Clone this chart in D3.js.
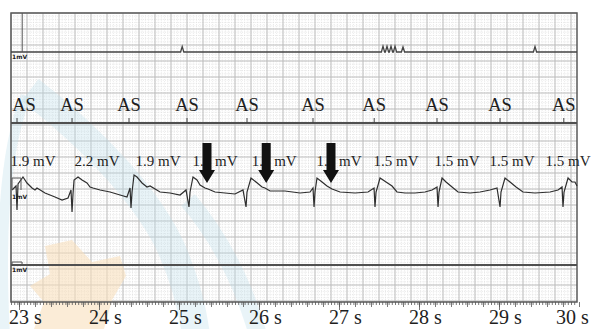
<!DOCTYPE html>
<html>
<head>
<meta charset="utf-8">
<script src="https://cdn.jsdelivr.net/npm/d3@7"></script>
<style>
body { margin: 0; background: #fff; }
svg { display: block; }
text { font-family: "Liberation Serif", "Times New Roman", serif; fill: #1e1e1e; }
</style>
</head>
<body>
<div id="chart"></div>
<script>
var secTicks = [23, 24, 25, 26, 27, 28, 29, 30];
var asTimes = [22.975, 23.663, 24.375, 25.1, 25.85, 26.675, 27.44, 28.225, 29.013, 29.81];
var ampValues = [1.9, 2.2, 1.9, 1.5, 1.5, 1.5, 1.5, 1.5, 1.5, 1.5];
var ampTimes = [23.175, 23.975, 24.738, 25.45, 26.19, 27.0, 27.713, 28.475, 29.163, 29.863];
var arrowTimes = [25.35, 26.09, 26.9];
var topSpikeTimes = [25.04, 27.55, 27.6, 27.65, 27.7, 27.8, 29.45];
var topSpikeAmp = [0.14, 0.15, 0.15, 0.15, 0.15, 0.13, 0.14];
// ECG lead: [time s, mV]
var ecg = [
  [22.913, 0], [22.963, 0.2], [22.975, -1.0], [22.988, 0.3], [23.05, 0.65], [23.1, 0.35],
  [23.163, 0.1], [23.2, 0], [23.225, 0.1], [23.325, -0.15], [23.45, -0.35], [23.538, -0.5],
  [23.613, -0.4], [23.65, 0], [23.663, -1.1], [23.675, -0.2], [23.688, 0.5], [23.738, 0.65],
  [23.788, 0.5], [23.85, 0.35], [23.888, 0.15], [23.925, 0.1], [24.013, 0], [24.138, -0.1],
  [24.263, -0.25], [24.35, -0.35], [24.388, 0.1], [24.4, -0.9], [24.413, -0.1], [24.438, 0.75],
  [24.475, 0.65], [24.538, 0.35], [24.6, 0.15], [24.638, 0.2], [24.763, -0.1], [24.888, -0.15],
  [25.013, -0.25], [25.088, 0], [25.125, -0.85], [25.138, -0.1], [25.175, 0.65], [25.225, 0.5],
  [25.263, 0.25], [25.325, 0.1], [25.363, 0.05], [25.45, -0.1], [25.575, -0.15], [25.7, -0.2],
  [25.8, 0], [25.838, -0.85], [25.85, -0.1], [25.9, 0.6], [25.963, 0.4], [26.038, 0.15],
  [26.075, 0.1], [26.138, -0.05], [26.325, -0.05], [26.513, -0.15], [26.638, -0.1], [26.675, 0.1],
  [26.688, -0.85], [26.7, -0.1], [26.725, 0.6], [26.788, 0.4], [26.85, 0.2], [26.913, 0.05],
  [27.013, -0.1], [27.2, -0.15], [27.363, -0.1], [27.438, 0.1], [27.45, -0.85], [27.463, -0.1],
  [27.513, 0.6], [27.588, 0.4], [27.663, 0.2], [27.725, -0.1], [27.825, -0.15], [27.95, -0.15],
  [28.075, -0.1], [28.163, 0], [28.225, 0.15], [28.238, -0.85], [28.25, -0.1], [28.288, 0.6],
  [28.338, 0.4], [28.413, 0.15], [28.488, -0.1], [28.638, -0.15], [28.763, -0.1], [28.888, 0],
  [28.975, 0.1], [29.013, -0.85], [29.025, -0.1], [29.075, 0.6], [29.138, 0.4], [29.213, 0.15],
  [29.3, -0.1], [29.45, -0.15], [29.638, -0.1], [29.738, 0], [29.788, 0.15], [29.8, -0.85],
  [29.813, -0.1], [29.863, 0.6], [29.913, 0.4], [29.95, 0.4], [29.975, 0.2]
];

var width = 592, height = 329;
var L = 11, R = 577, T = 13, B = 302;

var svg = d3.select('#chart').append('svg').attr('width', width).attr('height', height);

var x = d3.scaleLinear().domain([22.9, 29.975]).range([L, R]);
var yTop = d3.scaleLinear().domain([0, 1]).range([52, 13]);
var yEcg = d3.scaleLinear().domain([0, 1]).range([190, 170]);
var yBot = d3.scaleLinear().domain([0, 1]).range([265, 245]);

// paper grid: 0.2 s big boxes, 0.04 s small ones
var grid = svg.append('g');
var minorT = d3.range(0, 177).map(i => 22.9 + i * 0.04).filter(t => t <= 29.975);
var majorT = d3.range(0, 36).map(i => 22.9 + i * 0.2);
var minorY = d3.range(T, B, 3.2);
var majorY = d3.range(T, B, 16);

grid.selectAll('.mv').data(minorT).enter().append('line')
  .attr('x1', d => x(d)).attr('x2', d => x(d)).attr('y1', T).attr('y2', B)
  .attr('stroke', '#d6d6d6').attr('stroke-width', 0.6).attr('stroke-dasharray', '1,1.2');
grid.selectAll('.mh').data(minorY).enter().append('line')
  .attr('x1', L).attr('x2', R).attr('y1', d => d).attr('y2', d => d)
  .attr('stroke', '#d6d6d6').attr('stroke-width', 0.6).attr('stroke-dasharray', '1,1.2');
grid.selectAll('.Mv').data(majorT).enter().append('line')
  .attr('x1', d => x(d)).attr('x2', d => x(d)).attr('y1', T).attr('y2', B)
  .attr('stroke', '#bdbdbd').attr('stroke-width', 1);
grid.selectAll('.Mh').data(majorY).enter().append('line')
  .attr('x1', L).attr('x2', R).attr('y1', d => d).attr('y2', d => d)
  .attr('stroke', '#bdbdbd').attr('stroke-width', 1);

// faint watermark behind the traces
var wm = svg.append('g').attr('fill', 'none');
wm.append('path').attr('d', 'M30,90 C95,140 150,200 172,250 C185,280 192,305 196,335')
  .attr('stroke', '#bfe0ea').attr('stroke-width', 28).attr('opacity', 0.35);
wm.append('path').attr('d', 'M188,200 C220,238 243,282 258,335')
  .attr('stroke', '#bfe0ea').attr('stroke-width', 18).attr('opacity', 0.35);
wm.append('path').attr('d', 'M26,96 C4,150 0,240 5,335')
  .attr('stroke', '#bfe0ea').attr('stroke-width', 10).attr('opacity', 0.35);
wm.append('path')
  .attr('d', 'M45,246 L72,240 L92,262 L120,256 L126,276 L112,300 L104,329 L34,329 L44,302 L30,286 L50,274 Z')
  .attr('fill', '#f8dfbd').attr('opacity', 0.6);

// frame
svg.append('rect').attr('x', L).attr('y', T).attr('width', R - L).attr('height', B - T)
  .attr('fill', 'none').attr('stroke', '#5a5a5a').attr('stroke-width', 1.5);

// channel 1 with small spikes
var topPts = [[22.9, 0]];
topSpikeTimes.forEach((t, i) => { topPts.push([t - 0.02, 0], [t, topSpikeAmp[i]], [t + 0.02, 0]); });
topPts.push([29.975, 0]);
svg.append('path').attr('d', d3.line().x(d => x(d[0])).y(d => yTop(d[1]))(topPts))
  .attr('fill', 'none').attr('stroke', '#444').attr('stroke-width', 1.3);
svg.append('line').attr('x1', x(23.04)).attr('x2', x(23.04)).attr('y1', yTop(0)).attr('y2', yTop(1))
  .attr('stroke', '#555').attr('stroke-width', 1);

// marker channel
svg.append('line').attr('x1', L).attr('x2', R).attr('y1', 123).attr('y2', 123)
  .attr('stroke', '#505050').attr('stroke-width', 2);
svg.selectAll('.ast').data(asTimes).enter().append('line')
  .attr('x1', d => x(d)).attr('x2', d => x(d)).attr('y1', 118).attr('y2', 123)
  .attr('stroke', '#444').attr('stroke-width', 1);
svg.selectAll('.asl').data(asTimes).enter().append('text')
  .attr('x', d => Math.max(x(d), L + 13)).attr('y', 111)
  .attr('text-anchor', 'middle').style('font-size', '18.5px').text('AS');

// amplitude labels
svg.selectAll('.amp').data(ampValues).enter().append('text')
  .attr('x', (d, i) => x(ampTimes[i])).attr('y', 166)
  .attr('text-anchor', 'middle').style('font-size', '15px').text(d => d.toFixed(1) + ' mV');

// ECG
svg.append('path').attr('d', d3.line().x(d => x(d[0])).y(d => yEcg(d[1]))(ecg))
  .attr('fill', 'none').attr('stroke', '#2e2e2e').attr('stroke-width', 1.2);
svg.append('path').attr('d', d3.line().x(d => x(d[0])).y(d => yEcg(d[1]))([[22.913, 0], [22.913, 0.6], [23.025, 0.6], [23.025, 0]]))
  .attr('fill', 'none').attr('stroke', '#555').attr('stroke-width', 1);

// bottom channel
svg.append('line').attr('x1', L).attr('x2', R).attr('y1', yBot(0)).attr('y2', yBot(0))
  .attr('stroke', '#505050').attr('stroke-width', 1.8);
svg.append('path').attr('d', d3.line().x(d => x(d[0])).y(d => yBot(d[1]))([[22.913, 0], [22.913, 0.15], [23.038, 0.15], [23.038, 0]]))
  .attr('fill', 'none').attr('stroke', '#555').attr('stroke-width', 1);

// 1mV tags
[yTop(0) + 7, yEcg(0) + 9, yBot(0) + 7].forEach(yy => {
  svg.append('text').attr('x', L + 1).attr('y', yy).style('font-size', '6px')
    .style('font-family', 'DejaVu Sans, sans-serif').style('font-weight', 'bold').text('1mV');
});

// arrows
svg.selectAll('.arr').data(arrowTimes).enter().append('path')
  .attr('d', d => {
    var cx = x(d);
    return 'M' + (cx - 4.5) + ',143 L' + (cx + 4.5) + ',143 L' + (cx + 4.5) + ',170 L' + (cx + 8) + ',170 L' + cx + ',183 L' +
      (cx - 8) + ',170 L' + (cx - 4.5) + ',170 Z';
  })
  .attr('fill', '#111');

// time ruler
var ax = svg.append('g').attr('transform', 'translate(0,' + B + ')');
ax.append('g').call(d3.axisBottom(x).tickValues(minorT).tickSize(3).tickFormat(''));
ax.append('g').call(d3.axisBottom(x).tickValues(d3.range(23, 30.01, 0.2)).tickSize(5).tickFormat(''));
ax.append('g').call(d3.axisBottom(x).tickValues(secTicks.filter(d => d < 30)).tickSize(8).tickFormat(''));
ax.selectAll('.domain').remove();
ax.selectAll('line').attr('stroke', '#555').attr('stroke-width', 0.8);

svg.selectAll('.sec').data(secTicks).enter().append('text')
  .attr('x', d => Math.min(x(d) - 10, width - 36)).attr('y', 324)
  .style('font-size', '20px').text(d => d + ' s');
</script>
</body>
</html>
